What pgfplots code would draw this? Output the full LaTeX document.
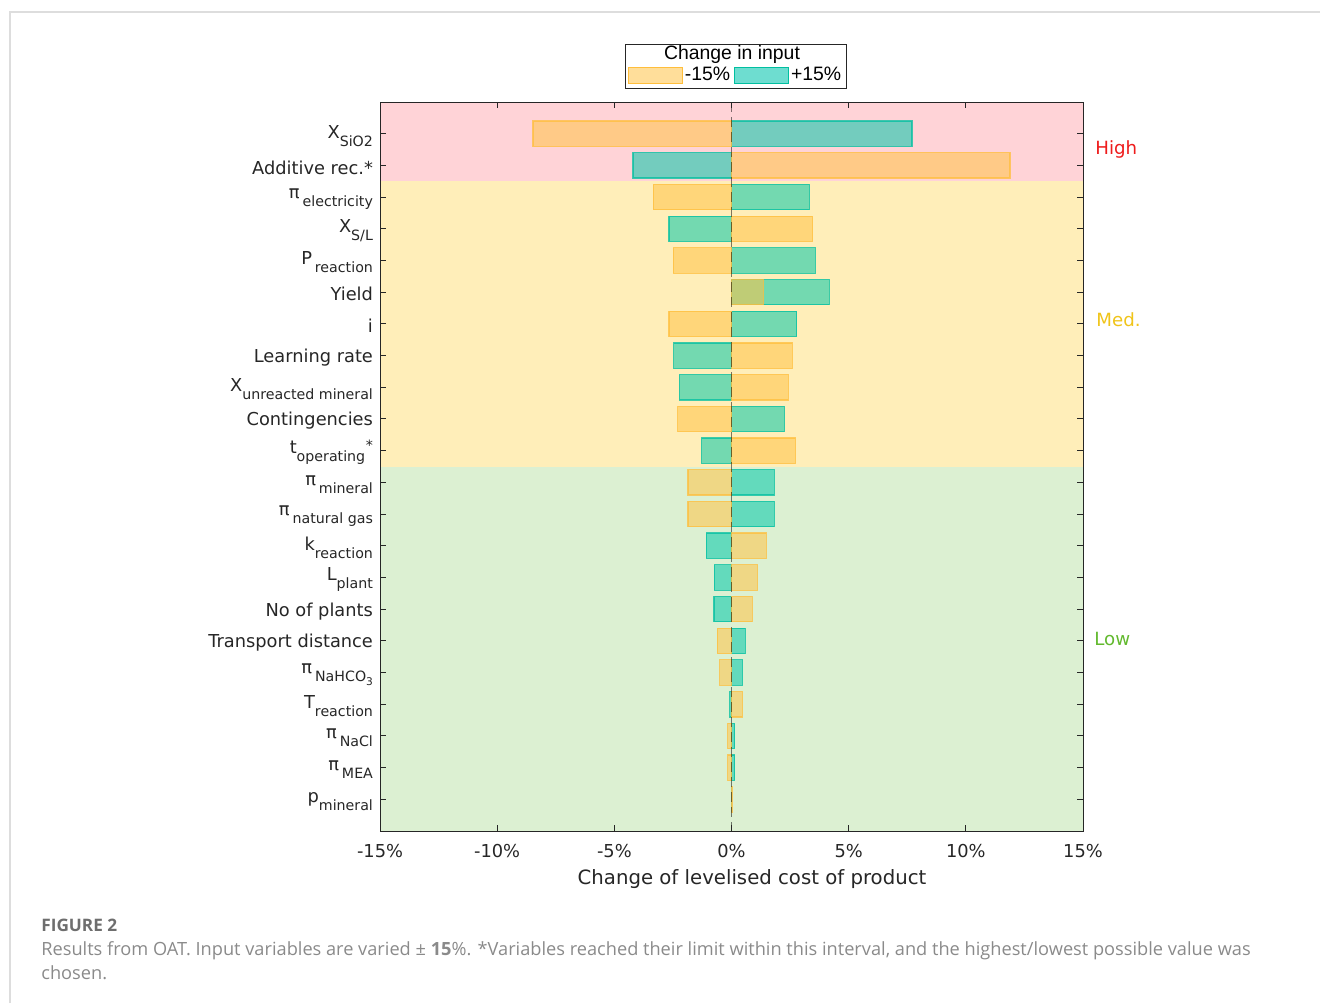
\documentclass[border=0pt]{standalone}
\usepackage{fontspec}
\setmainfont{DejaVu Sans}
\newfontfamily\legfont{Liberation Sans}
\newfontfamily\capfont{Open Sans}
\usepackage{pgfplots}
\pgfplotsset{compat=1.18}
\definecolor{axiscol}{HTML}{262626}
\definecolor{bandhigh}{HTML}{FFD3D7}
\definecolor{bandmed}{HTML}{FFEEB9}
\definecolor{bandlow}{HTML}{DCF0D2}
\definecolor{orangebar}{HTML}{FFC347}
\definecolor{tealbar}{HTML}{00C8AA}
\definecolor{orangeedge}{HTML}{FFBE3C}
\definecolor{tealedge}{HTML}{00BFA0}
\definecolor{legorange}{HTML}{FFDE9A}
\definecolor{legteal}{HTML}{6EDDD0}
\definecolor{highred}{HTML}{EE1C1C}
\definecolor{medyel}{HTML}{F0C419}
\definecolor{lowgreen}{HTML}{62B92E}
\definecolor{capgrey}{HTML}{8A8A8A}
\definecolor{figgrey}{HTML}{6E6E6E}
\definecolor{bordergrey}{HTML}{DDDDDD}
\newcommand\sub[1]{\raisebox{-4pt}{\fontsize{7.1}{8}\selectfont #1}}
\newcommand\subsub[1]{\raisebox{-2pt}{\fontsize{5.3}{6}\selectfont #1}}
\newcommand\supstar{\kern0.3pt\raisebox{1.5pt}{\fontsize{7.1}{8}\selectfont *}}
\begin{document}
\begin{tikzpicture}
\useasboundingbox (0,0) rectangle (660pt,-501.5pt);
\draw[bordergrey, line width=0.6pt] (5pt,-501.5pt) -- (5pt,-6pt) -- (660pt,-6pt);
\begin{axis}[
  at={(190pt,-415.5pt)}, anchor=south west,
  scale only axis, width=351.5pt, height=364.5pt,
  xmin=-15, xmax=15, ymin=0, ymax=23, y dir=reverse,
  xtick={-15,-10,-5,0,5,10,15},
  xticklabels={-15\%,-10\%,-5\%,0\%,5\%,10\%,15\%},
  ytick={1,...,22},
  yticklabels={
    {X\sub{SiO2}},
    {Additive rec.*},
    {π\,\sub{electricity}},
    {X\sub{S/L}},
    {P\,\sub{reaction}},
    {Yield},
    {i},
    {Learning rate},
    {X\sub{unreacted mineral}},
    {Contingencies},
    {t\sub{operating}\supstar},
    {π\,\sub{mineral}},
    {π\,\sub{natural gas}},
    {k\sub{reaction}},
    {L\sub{plant}},
    {No of plants},
    {Transport distance},
    {π\,\sub{NaHCO\subsub{3}}},
    {T\sub{reaction}},
    {π\,\sub{NaCl}},
    {π\,\sub{MEA}},
    {p\sub{mineral}}},
  tick align=inside, major tick length=3pt,
  axis on top,
  axis line style={draw=axiscol, line width=0.5pt},
  every tick/.style={draw=axiscol, line width=0.5pt},
  yticklabel style={font=\fontsize{8.9}{10}\selectfont, text=axiscol, yshift=-1pt},
  xticklabel style={font=\fontsize{8.9}{10}\selectfont, text=axiscol, yshift=-3.3pt},
  legend columns=2,
  legend cell align=left,
  legend style={at={(axis description cs:0.5057,1.037)}, anchor=center,
    draw=none, fill=none, inner sep=0pt,
    font=\legfont\fontsize{9.7}{11}\selectfont,
    /tikz/every even column/.append style={column sep=1pt},
    nodes={inner sep=1pt}},
]
\fill[bandhigh] (axis cs:-15,0) rectangle (axis cs:15,2.5);
\fill[bandmed] (axis cs:-15,2.5) rectangle (axis cs:15,11.5);
\fill[bandlow] (axis cs:-15,11.5) rectangle (axis cs:15,23);
\addlegendimage{legend image code/.code={\draw[fill=legorange,draw=orangeedge,line width=0.5pt] (0pt,-4pt) rectangle (27pt,4pt);}}
\addlegendentry{-15\%}
\addlegendimage{legend image code/.code={\draw[fill=legteal,draw=tealedge,line width=0.5pt] (0pt,-4pt) rectangle (27pt,4pt);}}
\addlegendentry{+15\%}
% +15% input
\addplot[xbar, bar shift=0pt, bar width=0.8, fill=tealbar, fill opacity=0.55,
  draw=tealedge, draw opacity=0.75, line width=0.6pt, forget plot] coordinates {
  (7.70,1) (-4.20,2) (3.32,3) (-2.67,4) (3.57,5) (4.17,6) (2.79,7) (-2.46,8)
  (-2.22,9) (2.26,10) (-1.28,11) (1.82,12) (1.82,13) (-1.08,14) (-0.74,15)
  (-0.75,16) (0.58,17) (0.46,18) (-0.07,19) (0.14,20) (0.14,21) (0.0,22)};
% -15% input
\addplot[xbar, bar shift=0pt, bar width=0.8, fill=orangebar, fill opacity=0.55,
  draw=orangeedge, draw opacity=0.75, line width=0.6pt, forget plot] coordinates {
  (-8.47,1) (11.88,2) (-3.34,3) (3.46,4) (-2.49,5) (1.35,6) (-2.67,7) (2.59,8)
  (2.42,9) (-2.29,10) (2.73,11) (-1.86,12) (-1.86,13) (1.48,14) (1.10,15)
  (0.88,16) (-0.61,17) (-0.50,18) (0.46,19) (-0.16,20) (-0.16,21) (0.03,22)};
\addplot[forget plot, draw=black, draw opacity=0.5, line width=0.7pt,
  dash pattern=on 5pt off 2.5pt] coordinates {(0,0) (0,23)};
\end{axis}
% legend title and frame
\draw[axiscol, line width=0.5pt] (312.5pt,-22pt) rectangle (423pt,-44pt);
\node[font=\legfont\fontsize{9.7}{11}\selectfont, inner sep=0pt] at (366pt,-27.3pt) {Change in input};
% band labels
\node[anchor=base west, inner sep=0pt, text=highred, font=\fontsize{9.1}{10}\selectfont] at (547.5pt,-77pt) {High};
\node[anchor=base west, inner sep=0pt, text=medyel, font=\fontsize{9.1}{10}\selectfont] at (548pt,-163pt) {Med.};
\node[anchor=base west, inner sep=0pt, text=lowgreen, font=\fontsize{9.1}{10}\selectfont] at (547pt,-322.5pt) {Low};
% x label
\node[text=axiscol, font=\fontsize{9.85}{11}\selectfont, inner sep=0pt] at (376pt,-439.5pt) {Change of levelised cost of product};
% caption
\node[anchor=base west, inner sep=0pt, text=figgrey, font=\capfont\bfseries\fontsize{8.6}{10}\selectfont] at (20.5pt,-465.5pt) {FIGURE 2};
\node[anchor=base west, inner sep=0pt, text=capgrey, font=\capfont\fontsize{9.1}{10}\selectfont] at (20.5pt,-477.5pt) {Results from OAT. Input variables are varied ± \textbf{15}\%. *Variables reached their limit within this interval, and the highest/lowest possible value was};
\node[anchor=base west, inner sep=0pt, text=capgrey, font=\capfont\fontsize{9.1}{10}\selectfont] at (20.5pt,-489.5pt) {chosen.};
\end{tikzpicture}
\end{document}
